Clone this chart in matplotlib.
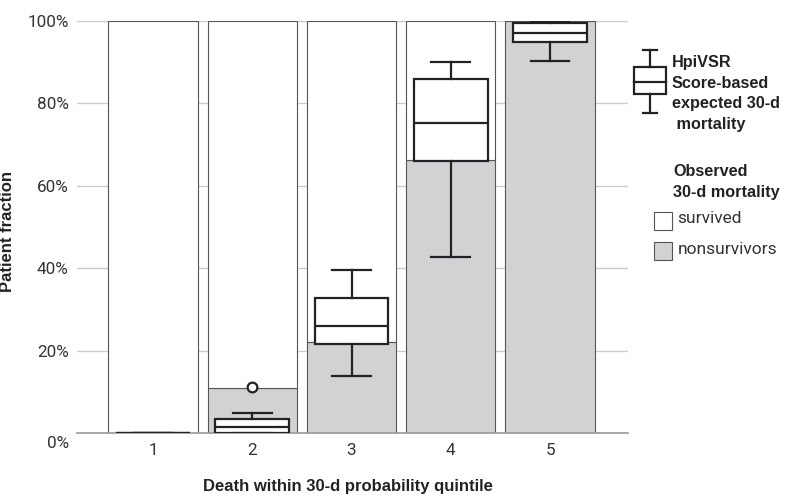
import numpy as np
import matplotlib.pyplot as plt
from matplotlib.patches import Rectangle
from matplotlib.lines import Line2D
import matplotlib.transforms as mtransforms

plt.rcParams['font.family'] = ['Roboto', 'DejaVu Sans']
BOLD = ['Liberation Sans', 'DejaVu Sans']

# data (percent)
quintiles = ['1', '2', '3', '4', '5']
nonsurvivors = [0.0, 11.0, 22.2, 66.3, 100.0]
survived = [100.0 - v for v in nonsurvivors]

# expected 30-d mortality (HpiVSR score) box stats
whis_lo = [0.0, 0.0, 13.8, 42.6, 90.3]
q1 = [0.0, 0.0, 21.6, 66.1, 95.0]
med = [0.0, 1.4, 26.0, 75.2, 97.2]
q3 = [0.0, 3.5, 32.8, 86.0, 99.5]
whis_hi = [0.0, 4.9, 39.6, 90.0, 100.0]
fliers = [[], [11.2], [], [], []]

box_title = ['HpiVSR', 'Score-based', 'expected 30-d', ' mortality']
obs_title = ['Observed', '30-d mortality']
obs_labels = ['survived', 'nonsurvivors']

gray = '#d1d2d4'
edge = '#555555'
ink = '#222222'

fig = plt.figure(figsize=(7.87, 4.98), dpi=100)
ax = fig.add_axes([77 / 787, 1 - 433 / 498, (628 - 77) / 787, (433 - 21) / 498])

x = np.arange(1, len(quintiles) + 1)
ax.bar(x, nonsurvivors, width=0.9, color=gray, edgecolor=edge, linewidth=0.8, zorder=2)
ax.bar(x, survived, width=0.9, bottom=nonsurvivors, color='white', edgecolor=edge,
       linewidth=0.8, zorder=2)

stats = []
for i in range(len(quintiles)):
    stats.append(dict(whislo=whis_lo[i], q1=q1[i], med=med[i], q3=q3[i],
                      whishi=whis_hi[i], fliers=fliers[i]))
lp = dict(color=ink, linewidth=1.6)
ax.bxp(stats, positions=x, widths=0.745, capwidths=0.39, patch_artist=True,
       boxprops=dict(facecolor='white', edgecolor=ink, linewidth=1.6),
       medianprops=lp, whiskerprops=lp, capprops=lp,
       flierprops=dict(marker='o', markerfacecolor='white', markeredgecolor=ink,
                       markeredgewidth=1.6, markersize=7),
       manage_ticks=False, zorder=3)

ax.set_xlim(0.235, 5.785)
ax.set_ylim(0, 100)
ax.set_xticks(x)
ax.set_xticklabels(quintiles)
ax.set_yticks([0, 20, 40, 60, 80, 100])
ax.set_yticklabels(['0%', '20%', '40%', '60%', '80%', '100%'])
ax.tick_params(length=0, labelsize=12.3, colors='#333333', pad=6)
ax.tick_params(axis='x', pad=7)
# the 0% label sits a little below its line
lab0 = ax.get_yticklabels()[0]
lab0.set_transform(lab0.get_transform() + mtransforms.ScaledTranslation(0, -9 / 100, fig.dpi_scale_trans))

ax.grid(axis='y', color='#cccccc', linewidth=1, zorder=0)
ax.set_axisbelow(True)
for s in ['top', 'right', 'left']:
    ax.spines[s].set_visible(False)
ax.spines['bottom'].set_color('#999999')
ax.spines['bottom'].set_linewidth(1.2)

ax.set_ylabel('Patient fraction', fontsize=12, fontweight='bold', color=ink, family=BOLD)
ax.yaxis.set_label_coords(-0.112, 0.49)
fig.text(348 / 787, 1 - 486 / 498, 'Death within 30-d probability quintile', fontsize=12,
         fontweight='bold', color=ink, ha='center', va='center', family=BOLD)

# legend drawn in pixel space
lg = fig.add_axes([0, 0, 1, 1])
lg.set_xlim(0, 787)
lg.set_ylim(498, 0)
lg.axis('off')
lg.add_patch(Rectangle((634, 67), 32, 27, facecolor='white', edgecolor=ink, linewidth=1.6))
lg.add_line(Line2D([634, 666], [82, 82], color=ink, linewidth=1.6))
lg.add_line(Line2D([650, 650], [50, 67], color=ink, linewidth=1.6))
lg.add_line(Line2D([650, 650], [94, 113], color=ink, linewidth=1.6))
lg.add_line(Line2D([643, 657], [50, 50], color=ink, linewidth=1.6))
lg.add_line(Line2D([643, 657], [113, 113], color=ink, linewidth=1.6))
for i, line in enumerate(box_title):
    lg.text(672, 67 + 20.7 * i, line, fontsize=11.7, fontweight='bold', color=ink,
            va='baseline', ha='left', family=BOLD)
for i, line in enumerate(obs_title):
    lg.text(673, 176 + 21 * i, line, fontsize=11.7, fontweight='bold', color=ink,
            va='baseline', ha='left', family=BOLD)
fills = ['white', gray]
for i, lab in enumerate(obs_labels):
    lg.add_patch(Rectangle((654, 212 + 30 * i), 18, 18, facecolor=fills[i], edgecolor=edge,
                           linewidth=0.8))
    lg.text(677.5, 223 + 31 * i, lab, fontsize=12.5, color='#333333', va='baseline', ha='left')

fig.savefig('out.png', dpi=100)
